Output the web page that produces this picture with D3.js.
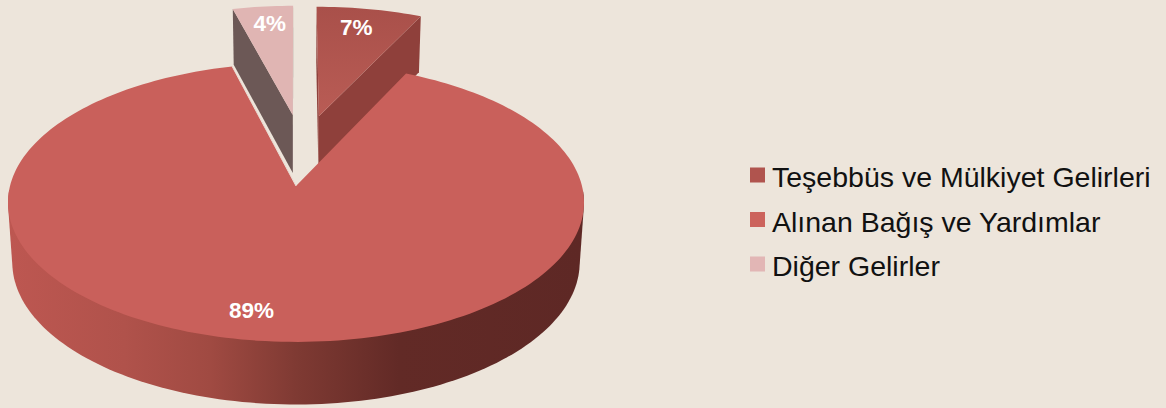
<!DOCTYPE html>
<html><head><meta charset="utf-8">
<script src="https://cdn.jsdelivr.net/npm/d3@7/dist/d3.min.js"></script>
<style>html,body{margin:0;padding:0;background:#ede5db;overflow:hidden}text{font-family:"Liberation Sans",Arial,sans-serif}</style>
</head><body><svg id="c" width="1166" height="408"></svg>
<script>
const categories = ["Teşebbüs ve Mülkiyet Gelirleri", "Alınan Bağış ve Yardımlar", "Diğer Gelirler"];
const values = [7, 89, 4];
const labels = ["7%", "89%", "4%"];
const topColors = ["url(#slice7)", "#c9605b", "#e0b5b3"];
const legendColors = ["#b0544e", "#cc635c", "#e2b6b5"];
const wallColors = ["#8f403b", "#8f403b", "#6c5856"];

const W = 1166, H = 408;
const svg = d3.select("#c");
svg.append("rect").attr("width", W).attr("height", H).attr("fill", "#ede5db");

// projection of a tilted disc
const cx = 296, cy = 186, R = 286, K = 137.5, P = 0.118, DEPTH = 59.5, SHRINK = 0.985;
const xS = d3.scaleLinear().domain([-1, 1]).range([cx - R, cx + R]);
const yS = d3.scaleLinear().domain([-1, 1]).range([cy - K, cy + K]);
function proj(u, v, bottom) {
  const w = 1 - P * v;
  let x = xS(u / w), y = yS(v / w);
  if (bottom) { x = cx + (x - cx) * SHRINK; y += DEPTH / Math.pow(w, 0.4); }
  return [x, y];
}
const explode = [[0.085, -0.54], [0, 0], [-0.012, -0.55]];
const labelPlace = [{r: 0.82, dx: -5, dy: 0}, {r: 0.82, dx: -20, dy: 0}, {r: 0.85, dx: 3, dy: 1}];

const arcs = d3.pie().sort(null).value(d => d)(values);
const line = d3.line();
function rim(a, i, bottom, frontOnly) {
  const n = Math.max(4, Math.ceil((a.endAngle - a.startAngle) * 40));
  const [du, dv] = explode[i];
  const pts = [];
  d3.range(n + 1).forEach(k => {
    const t = a.startAngle + (a.endAngle - a.startAngle) * k / n;
    if (!frontOnly || -Math.cos(t) > 0.02) pts.push(proj(Math.sin(t) + du, -Math.cos(t) + dv, bottom));
  });
  return pts;
}
function apex(i, bottom) { return proj(explode[i][0], explode[i][1], bottom); }

const defs = svg.append("defs");
const g = defs.append("linearGradient").attr("id", "wall").attr("gradientUnits", "userSpaceOnUse")
  .attr("x1", cx - R).attr("x2", cx + R).attr("y1", 0).attr("y2", 0);
[[0, "#bd5751"], [0.2, "#b0524b"], [0.35, "#a04a42"], [0.5, "#7f3a33"], [0.68, "#622a26"], [1, "#5e2825"]]
  .forEach(s => g.append("stop").attr("offset", s[0]).attr("stop-color", s[1]));
const g7 = defs.append("linearGradient").attr("id", "slice7").attr("x1", 0).attr("x2", 0).attr("y1", 0).attr("y2", 1);
[[0, "#a9504a"], [1, "#b95c55"]].forEach(s => g7.append("stop").attr("offset", s[0]).attr("stop-color", s[1]));

// exploded slices first, main slice over them
[2, 0, 1].forEach(i => {
  const a = arcs[i];
  const top = rim(a, i, false), bot = rim(a, i, true);
  if (i !== 1) {
    [[top[0], bot[0]], [top[top.length - 1], bot[bot.length - 1]]].forEach(e => {
      svg.append("path").attr("d", line([apex(i, false), e[0], e[1], apex(i, true)]) + "Z").attr("fill", wallColors[i]);
    });
  } else {
    const hull = d3.polygonHull(rim(a, i, false, true).concat(rim(a, i, true, true)));
    svg.append("path").attr("d", line(hull) + "Z").attr("fill", "url(#wall)");
  }
  svg.append("path").attr("d", line([apex(i, false)].concat(top)) + "Z").attr("fill", topColors[i]);
  if (i === 1) {
    svg.append("path").attr("d", line([apex(i, false), top[top.length - 1]]))
      .attr("fill", "none").attr("stroke", "#eadbd2").attr("stroke-width", 1);
  }
});

arcs.forEach((a, i) => {
  const m = (a.startAngle + a.endAngle) / 2, lp = labelPlace[i];
  const p = proj(Math.sin(m) * lp.r + explode[i][0], -Math.cos(m) * lp.r + explode[i][1], false);
  svg.append("text").attr("x", p[0] + lp.dx).attr("y", p[1] + lp.dy).attr("dy", "0.36em")
    .attr("text-anchor", "middle").attr("font-size", 22.5).attr("font-weight", "bold")
    .attr("fill", "#fff").text(labels[i]);
});

const ly = d3.scalePoint().domain(categories).range([187, 276]);
categories.forEach((c, i) => {
  svg.append("rect").attr("x", 750).attr("y", ly(c) - 19.5).attr("width", 15).attr("height", 15).attr("fill", legendColors[i]);
  svg.append("text").attr("x", 772).attr("y", ly(c)).attr("font-size", 28.5).attr("fill", "#111").text(c);
});
</script></body></html>
